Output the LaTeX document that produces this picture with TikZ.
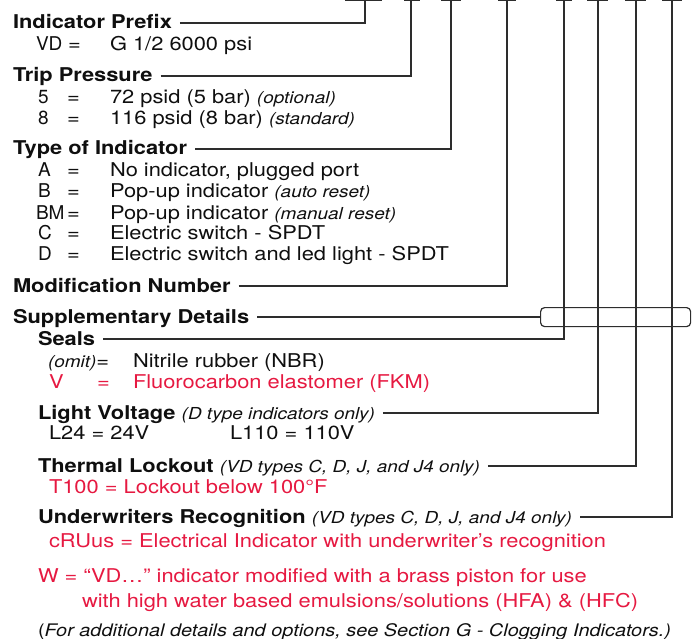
\documentclass[tikz,border=0pt]{standalone}
\usepackage{fontspec}
\setmainfont{TeX Gyre Heros}[FakeStretch=1.15]
\newfontfamily\keyfont{TeX Gyre Heros}
\definecolor{ink}{RGB}{15,15,15}
\definecolor{wirec}{RGB}{45,45,45}
\definecolor{hired}{RGB}{230,25,65}
\newcommand{\nt}[1]{{\fontsize{16.5}{20}\selectfont\mdseries\itshape #1}}
\tikzset{
  txt/.style={inner sep=0pt, outer sep=0pt, anchor=base west, text height=12pt, text depth=0pt, text=ink},
  head/.style={txt, font=\fontsize{19}{22}\selectfont\bfseries},
  body/.style={txt, font=\fontsize{19}{22}\selectfont},
  keyt/.style={txt, font=\fontsize{19}{22}\selectfont\keyfont},
  redbody/.style={body, text=hired},
  wire/.style={draw=wirec, line width=1.2pt},
}
\begin{document}
\begin{tikzpicture}[x=1pt,y=-1pt]
\useasboundingbox (0,0) rectangle (696,639);
% top code ticks
\foreach \n/\x/\a/\b in {1/365/345/382, 2/411/404/420, 3/451/441/461, 4/507/498/516, 5/564/556/572, 6/598/587/608, 7/636/625/646, 8/672/662/682}{
  \coordinate (t\n) at (\x,0.6);
  \draw[wire] (\a,0.6) -- (\b,0.6);
}
% headings
\node[head] (h1) at (13,29) {Indicator Prefix};
\node[head] (h2) at (13,82) {Trip Pressure};
\node[head] (h3) at (13,155) {Type of Indicator};
\node[head] (h4) at (13,292) {Modification Number};
\node[head] (h5) at (13,323) {Supplementary Details};
\node[head] (h6) at (38,345) {Seals};
\node[head] (h7) at (38,419) {Light Voltage \nt{(D type indicators only)}};
\node[head] (h8) at (38,472) {Thermal Lockout \nt{(VD types C, D, J, and J4 only)}};
\node[head] (h9) at (38,523) {Underwriters Recognition \nt{(VD types C, D, J, and J4 only)}};
% group box
\node[wire, rounded corners=4pt, minimum width=150pt, minimum height=19pt, inner sep=0pt, anchor=north west] (grp) at (540,307) {};
% body rows
\node[keyt] (k1) at (36,51) {VD};   \node[body] (e1) at (68,51) {=};  \node[body] (v1) at (110,51) {G 1/2 6000 psi};
\node[keyt] (k2) at (38,104) {5};   \node[body] (e2) at (67,104) {=}; \node[body] (v2) at (110,104) {72 psid (5 bar) \nt{(optional)}};
\node[keyt] (k3) at (38,125) {8};   \node[body] (e3) at (67,125) {=}; \node[body] (v3) at (110,125) {116 psid (8 bar) \nt{(standard)}};
\node[keyt] (k4) at (38,177) {A};   \node[body] (e4) at (67,177) {=}; \node[body] (v4) at (110,177) {No indicator, plugged port};
\node[keyt] (k5) at (38,198) {B};   \node[body] (e5) at (67,198) {=}; \node[body] (v5) at (110,198) {Pop-up indicator \nt{(auto reset)}};
\node[keyt] (k6) at (36,219) {BM};  \node[body] (e6) at (67,219) {=}; \node[body] (v6) at (110,219) {Pop-up indicator \nt{(manual reset)}};
\node[keyt] (k7) at (38,240) {C};   \node[body] (e7) at (67,240) {=}; \node[body] (v7) at (110,240) {Electric switch - SPDT};
\node[keyt] (k8) at (38,261) {D};   \node[body] (e8) at (67,261) {=}; \node[body] (v8) at (110,261) {Electric switch and led light - SPDT};
% seals
\node[body] (s1) at (48,367) {\nt{(omit)}=};  \node[body] (s1v) at (133,367) {Nitrile rubber (NBR)};
\node[redbody] (s2) at (49,388) {V}; \node[redbody] (s2e) at (97,388) {=}; \node[redbody] (s2v) at (133,388) {Fluorocarbon elastomer (FKM)};
% light voltage
\node[body] (l1) at (49,439) {L24 = 24V};
\node[body] (l2) at (230,439) {L110 = 110V};
% thermal
\node[redbody] (th) at (49,493) {T100 = Lockout below 100°F};
% underwriters
\node[redbody] (ur) at (49,547) {cRUus = Electrical Indicator with underwriter’s recognition};
% W
\node[redbody] (w1) at (38,582) {W = “VD…” indicator modified with a brass piston for use};
\node[redbody] (w2) at (82,607) {with high water based emulsions/solutions (HFA) \& (HFC)};
% footnote
\node[body, font=\fontsize{17.3}{21}\selectfont] (fn) at (38,636) {(\textit{For additional details and options, see Section G - Clogging Indicators.)}};
% connectors
\draw[wire] ([xshift=8pt]h1.east) -- (h1.east -| t1) -- (t1);
\draw[wire] ([xshift=8pt]h2.east) -- (h2.east -| t2) -- (t2);
\draw[wire] ([xshift=8pt]h3.east) -- (h3.east -| t3) -- (t3);
\draw[wire] ([xshift=8pt]h4.east) -- (h4.east -| t4) -- (t4);
\draw[wire] ([xshift=8pt]h5.east) -- (h5.east -| grp.west);
\draw[wire] ([xshift=8pt]h6.east) -- (h6.east -| t5) -- (t5);
\draw[wire] ([xshift=8pt]h7.east) -- (h7.east -| t6) -- (t6);
\draw[wire] ([xshift=8pt]h8.east) -- (h8.east -| t7) -- (t7);
\draw[wire] ([xshift=8pt]h9.east) -- (h9.east -| t8) -- (t8);
\end{tikzpicture}
\end{document}
